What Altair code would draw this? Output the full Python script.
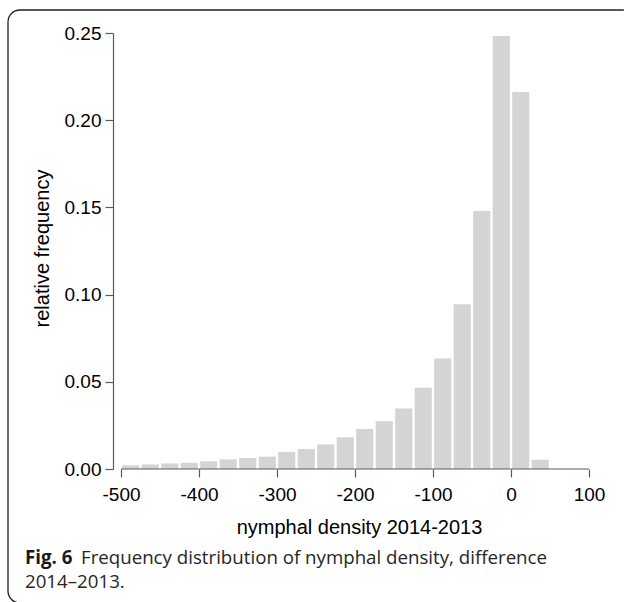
import altair as alt
import pandas as pd

# ---- data ----
bin_start = [-500, -475, -450, -425, -400, -375, -350, -325, -300, -275, -250,
             -225, -200, -175, -150, -125, -100, -75, -50, -25, 0, 25]
bin_end = [-475, -450, -425, -400, -375, -350, -325, -300, -275, -250, -225,
           -200, -175, -150, -125, -100, -75, -50, -25, 0, 25, 50]
rel_freq = [0.0021, 0.0026, 0.0032, 0.0036, 0.0044, 0.0055, 0.0063, 0.0071,
            0.0098, 0.0115, 0.0141, 0.0182, 0.0230, 0.0274, 0.0347, 0.0466,
            0.0634, 0.0945, 0.1480, 0.2483, 0.2161, 0.0053]
x_ticks = [-500, -400, -300, -200, -100, 0, 100]
y_ticks = [0.0, 0.05, 0.10, 0.15, 0.20, 0.25]

x_title = "nymphal density 2014-2013"
y_title = "relative frequency"
caption_bold = "Fig. 6"
caption_line1 = "Frequency distribution of nymphal density, difference"
caption_line2 = "2014\u20132013."

bars = pd.DataFrame({"start": bin_start, "end": bin_end, "freq": rel_freq})
xline = pd.DataFrame({"x": [x_ticks[0]], "x2": [x_ticks[-1]], "y": [0.0]})

AX = "#5a5a5a"
FONT = "Liberation Sans"
CAP = "Open Sans"

xscale = alt.Scale(domain=[-510.26, 100], nice=False, zero=False)
yscale = alt.Scale(domain=[0, 0.25], nice=False, zero=False)

xaxis = alt.Axis(values=x_ticks, title=x_title, domain=False, grid=False,
                 labelExpr="datum.value + ''",
                 tickSize=8, tickColor=AX, tickWidth=1.2,
                 labelFont=FONT, labelFontSize=19, labelColor="black",
                 labelPadding=8, labelFlush=False, labelOverlap=False,
                 titleFont=FONT, titleFontSize=20, titleFontWeight="normal",
                 titleColor="black", titleX=246, titleY=64,
                 titleBaseline="alphabetic", titleAlign="center")
yaxis = alt.Axis(values=y_ticks, format=".2f", title=y_title, domain=True,
                 domainColor=AX, domainWidth=1.2, grid=False,
                 tickSize=8, tickColor=AX, tickWidth=1.2,
                 labelFont=FONT, labelFontSize=19, labelColor="black",
                 labelPadding=4, labelFlush=False, labelOverlap=False,
                 titleFont=FONT, titleFontSize=20, titleFontWeight="normal",
                 titleColor="black", titleX=-65, titleY=215, titleAngle=270,
                 titleBaseline="alphabetic", titleAlign="center")

hist = alt.Chart(bars).mark_rect(color="#d4d4d4", xOffset=1.2, x2Offset=-1.2).encode(
    x=alt.X("start:Q", scale=xscale, axis=xaxis),
    x2="end:Q",
    y=alt.Y("freq:Q", scale=yscale, axis=yaxis),
    y2=alt.datum(0),
)

axis_line = alt.Chart(xline).mark_rule(color=AX, strokeWidth=1.2).encode(
    x=alt.X("x:Q", scale=xscale, axis=xaxis),
    x2="x2:Q",
    y=alt.Y("y:Q", scale=yscale, axis=yaxis),
)

one = pd.DataFrame({"t": [caption_bold]})
frame = alt.Chart(one).mark_rect(fill="transparent", stroke="#222222",
                                 strokeWidth=1.3, cornerRadius=12).encode(
    x=alt.value(-105), x2=alt.value(521), y=alt.value(-23), y2=alt.value(570)
)

cap_b = alt.Chart(pd.DataFrame({"t": [caption_bold]})).mark_text(
    font=CAP, fontSize=18.7, fontWeight="bold", color="#1a1a1a",
    align="left", baseline="alphabetic").encode(
    text="t:N", x=alt.value(-88), y=alt.value(531))
cap_1 = alt.Chart(pd.DataFrame({"t": [caption_line1]})).mark_text(
    font=CAP, fontSize=18.7, color="#262626",
    align="left", baseline="alphabetic").encode(
    text="t:N", x=alt.value(-32), y=alt.value(531))
cap_2 = alt.Chart(pd.DataFrame({"t": [caption_line2]})).mark_text(
    font=CAP, fontSize=18.7, color="#262626",
    align="left", baseline="alphabetic").encode(
    text="t:N", x=alt.value(-88), y=alt.value(555))

chart = alt.layer(frame, hist, axis_line, cap_b, cap_1, cap_2).properties(
    width=476, height=436,
    autosize=alt.AutoSizeParams(type="none"),
    padding={"left": 113, "top": 33, "right": 35, "bottom": 133},
    background="white",
).configure_view(strokeWidth=0)

chart.save("out.html", embed_options={"renderer": "svg", "actions": False})
